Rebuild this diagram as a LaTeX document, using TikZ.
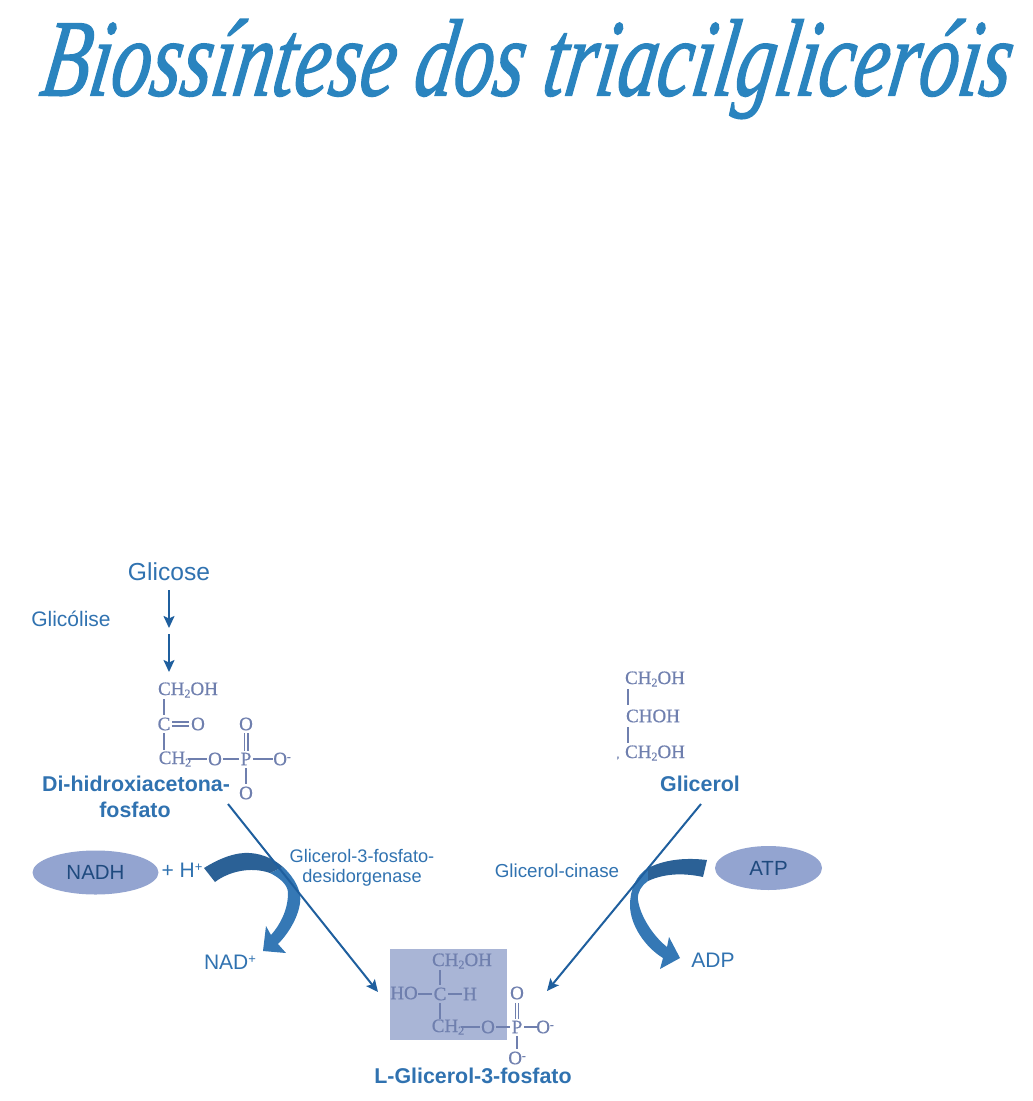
\documentclass[tikz,border=0pt]{standalone}
\usepackage{fontspec}
\setmainfont{Liberation Sans}
\newfontfamily\chemfont[FakeBold=0.6]{Liberation Serif}
\newfontfamily\titlefont[ItalicFeatures={FakeBold=1.4}]{Liberation Serif}
\usetikzlibrary{arrows.meta,shapes.geometric}
\definecolor{titleblue}{HTML}{2A84BF}
\definecolor{labelblue}{HTML}{3072B0}
\definecolor{linkblue}{HTML}{1F5F9E}
\definecolor{chemblue}{HTML}{6F7FAE}
\definecolor{boxblue}{HTML}{A9B5D6}
\definecolor{ovalblue}{HTML}{93A4D0}
\definecolor{ovaltext}{HTML}{1F4A7E}
\definecolor{darkband}{HTML}{2B6196}
\definecolor{lightband}{HTML}{3578B5}
\newcommand{\fsz}[1]{\fontsize{#1}{#1}\selectfont}
\newcommand{\chemtwo}{\raisebox{-2.5pt}{\fsz{12}2}}
\newcommand{\upplus}{\raisebox{6pt}{\fsz{13}+}}
\tikzset{
  lab/.style={inner sep=0pt,text=labelblue,font=\fsz{#1},align=center},
  boldlab/.style={inner sep=0pt,text=labelblue,font=\bfseries\fsz{21.4},align=center},
  chem/.style={inner sep=0pt,text=chemblue,font=\chemfont\fsz{19}},
  oval/.style={ellipse,fill=ovalblue,inner sep=0pt,text=ovaltext,font=\fsz{20.5}},
  bond/.style={draw=chemblue,line width=1.3pt},
  link/.style={draw=linkblue,line width=2pt,-{Stealth[length=12pt,width=11pt,inset=2.5pt]}},
}
\begin{document}
\begin{tikzpicture}[x=1pt,y=-1pt]
\useasboundingbox (0,0) rectangle (1033,1101);
% title
\node[inner sep=0pt,text=titleblue,xscale=0.802,yscale=1.12,xslant=0.22] (title) at (527,69)
  {\titlefont\itshape\fsz{98}Biossíntese dos triacilgliceróis};

% left column
\node[lab=24.6] (glicose) at (169,572) {Glicose};
\node[lab=21] (glicolise) at (71,619) {Glicólise};
\coordinate (g1) at (169,590); \coordinate (g2) at (169,628);
\coordinate (g3) at (169,634); \coordinate (g4) at (169,672);
\draw[link] (g1) -- (g2);
\draw[link] (g3) -- (g4);

% di-hydroxyacetone phosphate
\node[chem] (dch) at (188,690) {CH\chemtwo OH};
\node[chem] (dc) at (164,724) {C};
\node[chem] (do) at (198,724) {O};
\node[chem] (dchb) at (175,759) {CH\chemtwo};
\node[chem] (dob) at (215,759) {O};
\node[chem] (dp) at (246,759) {P};
\node[chem] (dom) at (282,759) {O\raisebox{5pt}{\fsz{11}-}};
\node[chem] (dot) at (246,724) {O};
\node[chem] (dob2) at (246,793) {O};
\draw[bond] (164,699) -- (164,715);
\draw[bond] (164,733) -- (164,750);
\draw[bond] (172,722) -- (189,722) (172,726) -- (189,726);
\draw[bond] (188,759) -- (207,759);
\draw[bond] (223,759) -- (239,759);
\draw[bond] (253,759) -- (273,759);
\draw[bond] (244.3,733) -- (244.3,751) (248,733) -- (248,751);
\draw[bond] (246,768) -- (246,784);
\node[boldlab] (dlabel) at (136,784) {Di-hidroxiacetona-};
\node[boldlab] (dlabel2) at (135,810) {fosfato};

% glycerol
\node[chem] (gl1) at (655,679) {CH\chemtwo OH};
\node[chem] (gl2) at (653,716) {CHOH};
\node[chem] (gl3) at (655,753) {CH\chemtwo OH};
\draw[bond] (628,689) -- (628,705);
\draw[bond] (628,727) -- (628,743);
\node[chem,font=\chemfont\fsz{11}] (glc) at (618,758) {,};
\node[boldlab] (gllabel) at (700,784) {Glicerol};

% left side cofactors
\node[oval,minimum width=126pt,minimum height=44pt] (nadh) at (95.5,872.5) {NADH};
\node[lab=21] (hplus) at (182,870) {+ H\upplus};
\node[lab=21] (nadp) at (230,962) {NAD\upplus};
\node[lab=18.2] (gdh) at (362,867.5) {Glicerol-3-fosfato-\\[2pt]desidorgenase};
\fill[lightband] (283,867)
  .. controls (295,878) and (302,892) .. (300,903)
  .. controls (298,918) and (288,934) .. (278,944)
  -- (286,953) -- (263,951) -- (266,926) -- (271,935)
  .. controls (280,925) and (288,910) .. (288,893)
  .. controls (288,885) and (280,878) .. (270,873) -- cycle;
\fill[darkband] (204,868)
  .. controls (220,858) and (236,852) .. (250,853)
  .. controls (264,854) and (275,860) .. (283,867)
  -- (270,873)
  .. controls (250,866) and (228,872) .. (215,882) -- cycle;

% right side cofactors
\node[oval,minimum width=107pt,minimum height=44pt] (atp) at (768.5,868) {ATP};
\node[lab=21] (adp) at (713,960) {ADP};
\node[lab=18.8] (gk) at (557,871) {Glicerol-cinase};
\fill[lightband] (648,868)
  .. controls (636,875) and (630,890) .. (630,905)
  .. controls (630,925) and (645,947) .. (663,958)
  -- (660,969) -- (680,958) -- (669,937) -- (667,947)
  .. controls (652,935) and (640,915) .. (638,900)
  .. controls (637,892) and (642,885) .. (648,881) -- cycle;
\fill[darkband] (707,860)
  .. controls (690,858) and (668,858) .. (648,868)
  -- (648,881)
  .. controls (665,873) and (685,873) .. (703,877) -- cycle;

% product
\fill[boxblue] (390,949) rectangle (507,1040);
\node[chem] (pch) at (462,961) {CH\chemtwo OH};
\node[chem] (pho) at (404,993) {HO};
\node[chem] (pc) at (440,994) {C};
\node[chem] (ph) at (470,994) {H};
\node[chem] (pchb) at (448,1027) {CH\chemtwo};
\node[chem] (po) at (488,1027) {O};
\node[chem] (pp) at (517,1027) {P};
\node[chem] (pom) at (545,1027) {O\raisebox{5pt}{\fsz{11}-}};
\node[chem] (pot) at (517,993) {O};
\node[chem] (pob) at (517,1058) {O\raisebox{5pt}{\fsz{11}-}};
\draw[bond] (440,970) -- (440,985);
\draw[bond] (440,1003) -- (440,1019);
\draw[bond] (418,994) -- (432,994);
\draw[bond] (448,994) -- (462,994);
\draw[bond] (461,1027) -- (480,1027);
\draw[bond] (496,1027) -- (510,1027);
\draw[bond] (524,1027) -- (537,1027);
\draw[bond] (515.2,1003) -- (515.2,1019) (518.8,1003) -- (518.8,1019);
\draw[bond] (517,1036) -- (517,1049);
\node[boldlab] (plabel) at (473,1076) {L-Glicerol-3-fosfato};

% long arrows
\coordinate (a1) at (228,804); \coordinate (a2) at (378,992);
\coordinate (b1) at (701,804); \coordinate (b2) at (547,991);
\draw[link] (a1) -- (a2);
\draw[link] (b1) -- (b2);
\end{tikzpicture}
\end{document}
